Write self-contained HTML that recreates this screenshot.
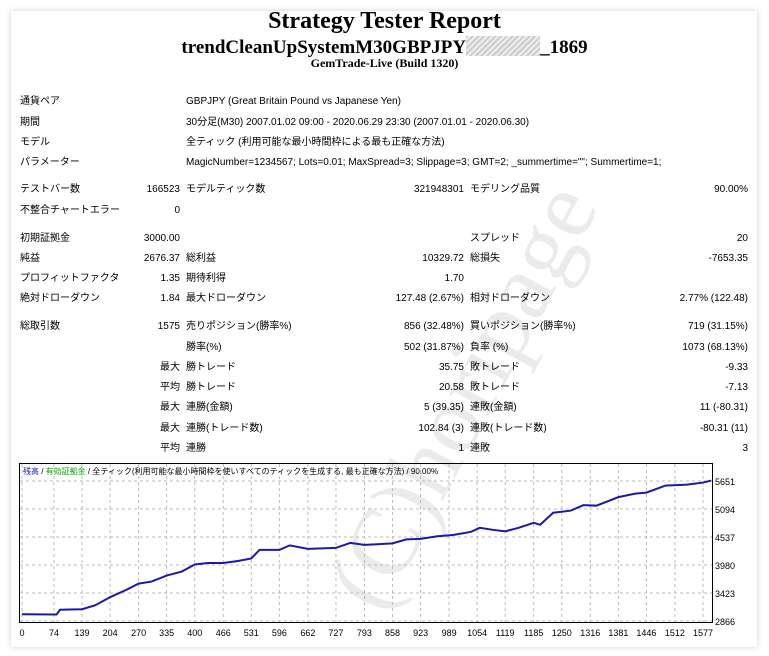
<!DOCTYPE html>
<html><head><meta charset="utf-8">
<style>
body{margin:0;background:#fff;width:769px;height:656px;overflow:hidden;position:relative;font-family:"Liberation Sans","Noto Sans CJK JP",sans-serif;}
.card{position:absolute;left:11px;top:11px;width:746px;height:636px;background:#fff;box-shadow:0 0 6px rgba(0,0,0,0.18);}
.t{position:absolute;font-size:10px;color:#000;white-space:nowrap;line-height:12px;}
.r{text-align:right;}
h1,h2,h3{position:absolute;margin:0;left:0;width:769px;text-align:center;font-family:"Liberation Serif",serif;font-weight:bold;}
.wm{position:absolute;left:230px;top:340px;font-family:"Liberation Serif",serif;font-size:96px;color:rgba(0,0,0,0.08);transform:rotate(-62deg);transform-origin:center;white-space:nowrap;}
</style></head><body>
<div class="card"></div>
<h1 style="top:8px;font-size:24px">Strategy Tester Report</h1>
<h2 style="top:36px;font-size:19px">trendCleanUpSystemM30GBPJPY<span style="display:inline-block;width:74px;height:20px;vertical-align:-3px;background:repeating-linear-gradient(135deg,#ccc 0 2px,#eee 2px 4px)"></span>_1869</h2>
<h3 style="top:56px;font-size:12px">GemTrade-Live (Build 1320)</h3>
<div id="rows"></div>
<div class="wm">(C)horipage</div>
<svg id="chart" style="position:absolute;left:0;top:0" width="769" height="656"></svg>
<script>
const rows=[
[96,"通貨ペア",null,"GBPJPY (Great Britain Pound vs Japanese Yen)"],
[117,"期間",null,"30分足(M30) 2007.01.02 09:00 - 2020.06.29 23:30 (2007.01.01 - 2020.06.30)"],
[137,"モデル",null,"全ティック (利用可能な最小時間枠による最も正確な方法)"],
[157,"パラメーター",null,"MagicNumber=1234567; Lots=0.01; MaxSpread=3; Slippage=3; GMT=2; _summertime=\"\"; Summertime=1;"]];
const grid=[
[184,"テストバー数","166523","モデルティック数","321948301","モデリング品質","90.00%"],
[205,"不整合チャートエラー","0","","","",""],
[233,"初期証拠金","3000.00","","","スプレッド","20"],
[253,"純益","2676.37","総利益","10329.72","総損失","-7653.35"],
[273,"プロフィットファクタ","1.35","期待利得","1.70","",""],
[293,"絶対ドローダウン","1.84","最大ドローダウン","127.48 (2.67%)","相対ドローダウン","2.77% (122.48)"],
[321,"総取引数","1575","売りポジション(勝率%)","856 (32.48%)","買いポジション(勝率%)","719 (31.15%)"],
[342,"","","勝率(%)","502 (31.87%)","負率 (%)","1073 (68.13%)"],
[362,"","最大","勝トレード","35.75","敗トレード","-9.33"],
[382,"","平均","勝トレード","20.58","敗トレード","-7.13"],
[402,"","最大","連勝(金額)","5 (39.35)","連敗(金額)","11 (-80.31)"],
[423,"","最大","連勝(トレード数)","102.84 (3)","連敗(トレード数)","-80.31 (11)"],
[443,"","平均","連勝","1","連敗","3"]];
const R=document.getElementById('rows');
function txt(x,y,s,right){const d=document.createElement('div');d.className='t'+(right?' r':'');


d.style.top=y+'px';if(right){d.style.left=(x-200)+'px';d.style.width='200px';}else d.style.left=x+'px';d.textContent=s;R.appendChild(d);}
rows.forEach(r=>{txt(20,r[0],r[1]);txt(186,r[0],r[3]);});
grid.forEach(r=>{if(r[1])txt(20,r[0],r[1]);txt(180,r[0],r[2],1);txt(186,r[0],r[3]);txt(464,r[0],r[4],1);txt(470,r[0],r[5]);txt(748,r[0],r[6],1);});

// chart data
const trades=[0,80,88,139,170,204,240,270,300,335,370,400,430,466,500,531,550,596,620,662,727,760,793,858,890,923,960,1000,1040,1060,1090,1119,1150,1185,1200,1230,1270,1300,1330,1381,1420,1446,1490,1540,1577,1596];
const balance=[3000,2995,3090,3100,3180,3340,3480,3610,3650,3770,3850,3990,4020,4020,4060,4110,4280,4280,4370,4300,4320,4420,4380,4410,4490,4500,4550,4580,4640,4720,4680,4650,4720,4820,4780,5020,5060,5170,5160,5330,5400,5420,5560,5580,5620,5660];
const xTicks=[0,74,139,204,270,335,400,466,531,596,662,727,793,858,923,989,1054,1119,1185,1250,1316,1381,1446,1512,1577];
const yTicks=[2866,3423,3980,4537,5094,5651];
const X=v=>22+v*(703-22)/1577, Y=v=>621-(v-2866)*28/557;
const S=document.getElementById('chart'),NS='http://www.w3.org/2000/svg';
function el(t,a,name){const e=document.createElementNS(NS,t);for(const k in a)e.setAttribute(k,a[k]);


S.appendChild(e);return e;}
el('rect',{x:19.5,y:463.5,width:693,height:159,fill:'none',stroke:'#000','stroke-width':1},'plot-frame');
xTicks.forEach(v=>{el('line',{x1:X(v),x2:X(v),y1:464,y2:622,stroke:'#bbb','stroke-dasharray':'3,3'},'x-grid');
const t=el('text',{x:X(v),y:636,'font-size':9,'text-anchor':'middle','font-family':'Liberation Sans'},'x-tick-label');t.textContent=v;});
yTicks.forEach(v=>{el('line',{x1:20,x2:712,y1:Y(v),y2:Y(v),stroke:'#bbb','stroke-dasharray':'3,3'},'y-grid');
const t=el('text',{x:715,y:Y(v)+4,'font-size':9,'font-family':'Liberation Sans'},'y-tick-label');t.textContent=v;});
el('polyline',{points:trades.map((t,i)=>X(t)+','+Y(balance[i])).join(' '),fill:'none',stroke:'#1a1aa8','stroke-width':2},'balance-line');
const lg=el('text',{x:23,y:474,'font-size':8,'font-family':'Liberation Sans, Noto Sans CJK JP, sans-serif'},'chart-legend');
lg.innerHTML='<tspan fill="#1a1aa8">残高</tspan> / <tspan fill="#0a0">有効証拠金</tspan> / 全ティック(利用可能な最小時間枠を使いすべてのティックを生成する, 最も正確な方法) / 90.00%';
</script>
</body></html>
